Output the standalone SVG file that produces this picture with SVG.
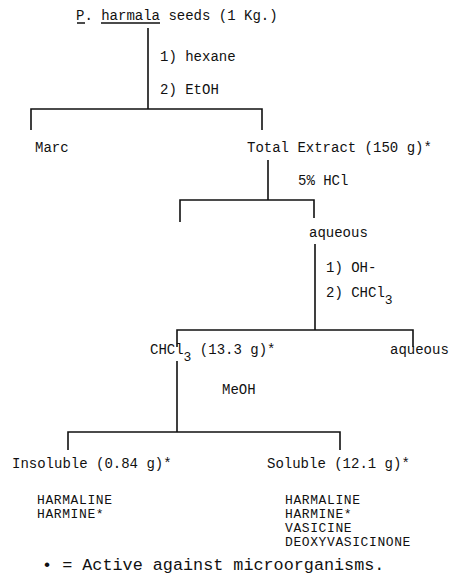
<svg xmlns="http://www.w3.org/2000/svg" width="450" height="583" viewBox="0 0 450 583">
<style>
text{font-family:"Liberation Mono","DejaVu Sans Mono",monospace;font-size:14px;fill:#111}
.sub{font-size:13px}
.lst{font-size:13px;letter-spacing:0.6px}
.note{font-size:16.8px}
.ln{stroke:#111;stroke-width:1.6;fill:none}
</style>
<rect width="450" height="583" fill="#fff"/>
<g id="connectors">
<path class="ln" d="M148 28V109M31 130V109H262V130"/>
<path class="ln" d="M268 160V200M180 222V200H314V218"/>
<path class="ln" d="M315 244V330M177 347V330H413V347"/>
<path class="ln" d="M177 361V432M68 450V432H340V450"/>
<path class="ln" d="M77 23H85M101 23H160"/>
</g>
<g id="seeds"><text x="76" y="20">P. harmala seeds (1 Kg.)</text></g>
<g id="step1"><text x="160" y="61">1) hexane</text><text x="160" y="94">2) EtOH</text></g>
<g id="marc"><text x="35" y="152">Marc</text></g>
<g id="total"><text x="247" y="152">Total Extract (150 g)*</text></g>
<g id="step2"><text x="298" y="185">5% HCl</text></g>
<g id="aqueous1"><text x="309" y="237">aqueous</text></g>
<g id="step3"><text x="326" y="272">1) OH-</text><text x="326" y="297">2) CHCl<tspan class="sub" dy="7">3</tspan></text></g>
<g id="chcl3"><text x="150" y="354">CHCl<tspan class="sub" dy="7">3</tspan><tspan dy="-7"> (13.3 g)*</tspan></text></g>
<g id="aqueous2"><text x="390" y="354">aqueous</text></g>
<g id="step4"><text x="222" y="394">MeOH</text></g>
<g id="insoluble"><text x="12" y="468">Insoluble (0.84 g)*</text><text class="lst" x="37" y="504">HARMALINE</text><text class="lst" x="37" y="518">HARMINE*</text></g>
<g id="soluble"><text x="267" y="468">Soluble (12.1 g)*</text><text class="lst" x="285" y="504">HARMALINE</text><text class="lst" x="285" y="518">HARMINE*</text><text class="lst" x="285" y="532">VASICINE</text><text class="lst" x="285" y="546">DEOXYVASICINONE</text></g>
<g id="legend"><text class="note" x="42" y="570">• = Active against microorganisms.</text></g>
</svg>
